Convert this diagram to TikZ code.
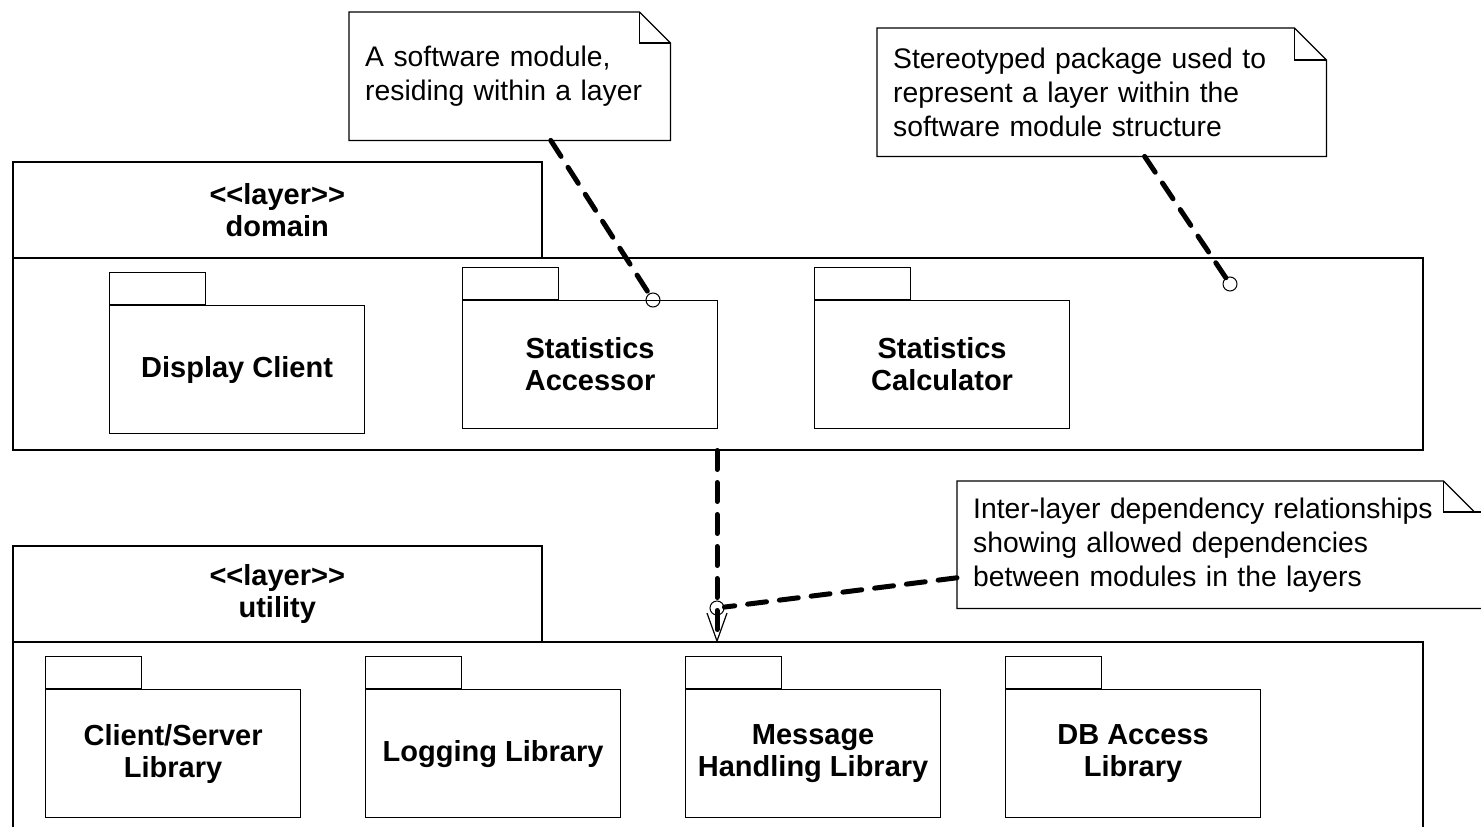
\documentclass[tikz,border=0pt]{standalone}
\usepackage{fontspec}
\setmainfont{Liberation Sans}
\newcommand{\diagpkgfont}{\fontsize{29}{32}\selectfont\bfseries}
\newcommand{\diagnotefont}{\fontsize{28.3}{34}\selectfont}
\begin{document}
\begin{tikzpicture}[x=1pt,y=-1pt,
  thinline/.style={line width=1.2pt},
  layerline/.style={line width=1.5pt},
  pkgbody/.style={draw, thinline, anchor=north west, minimum width=255pt, minimum height=128pt, inner sep=0pt, align=center, font=\diagpkgfont},
  pkgtab/.style={draw, thinline, anchor=south west, minimum width=96pt, minimum height=32pt, inner sep=0pt},
  layertab/.style={draw, layerline, anchor=north west, minimum width=529pt, minimum height=96pt, inner sep=0pt, align=center, font=\diagpkgfont},
  layerbody/.style={draw, layerline, anchor=north west, minimum width=1410pt, inner sep=0pt},
  notebox/.style={anchor=north west, minimum height=128pt, inner xsep=16pt, inner ysep=0pt, align=left, font=\diagnotefont},
  noteline/.style={thinline, line join=miter},
  dep/.style={line width=5pt, dash pattern=on 19pt off 13pt, line cap=round},
  anchorpt/.style={circle, draw, line width=1pt, minimum size=14pt, inner sep=0pt},
]
\useasboundingbox (0,0) rectangle (1481,827);

% layers
\node[layertab] (dt) at (12,161) {<\kern0pt<layer>\kern0pt>\\domain};
\node[layerbody, minimum height=192pt] (db) at (12,257) {};
\node[layertab] (ut) at (12,545) {<\kern0pt<layer>\kern0pt>\\utility};
\node[layerbody, minimum height=220pt] (ub) at (12,641) {};

% domain packages
\node[pkgbody] (dc) at (109,305) {Display Client};
\node[pkgtab] (dctab) at (dc.north west) {};
\node[pkgbody] (sa) at (462,300) {Statistics\\Accessor};
\node[pkgtab] (satab) at (sa.north west) {};
\node[pkgbody] (sc) at (814,300) {Statistics\\Calculator};
\node[pkgtab] (sctab) at (sc.north west) {};

% utility packages
\node[pkgbody] (csl) at (45,689) {Client/Server\\Library};
\node[pkgtab] (csltab) at (csl.north west) {};
\node[pkgbody] (ll) at (365,689) {Logging Library};
\node[pkgtab] (lltab) at (ll.north west) {};
\node[pkgbody] (mhl) at (685,689) {Message\\Handling Library};
\node[pkgtab] (mhltab) at (mhl.north west) {};
\node[pkgbody] (dba) at (1005,689) {DB Access\\Library};
\node[pkgtab] (dbatab) at (dba.north west) {};

% notes
\node[notebox, minimum width=321pt, text width=289pt] (n1) at (349,12) {A software module,\\residing within a layer};
\draw[noteline] (n1.north west) -- ([xshift=-31pt]n1.north east) -- ([yshift=-31pt]n1.north east) -- (n1.south east) -- (n1.south west) -- cycle;
\draw[noteline] ([xshift=-31pt]n1.north east) |- ([yshift=-31pt]n1.north east);

\node[notebox, minimum width=449pt, text width=417pt] (n2) at (877,28) {Stereotyped package used to\\represent a layer within the\\software module structure};
\draw[noteline] (n2.north west) -- ([xshift=-32pt]n2.north east) -- ([yshift=-32pt]n2.north east) -- (n2.south east) -- (n2.south west) -- cycle;
\draw[noteline] ([xshift=-32pt]n2.north east) |- ([yshift=-32pt]n2.north east);

\node[notebox, minimum width=526pt, text width=494pt, minimum height=127pt] (n3) at (957,481) {Inter-layer dependency relationships\\showing allowed dependencies\\between modules in the layers};
\draw[noteline] (n3.north west) -- ([xshift=-40pt]n3.north east) -- ([xshift=-9pt,yshift=-31pt]n3.north east) -- ([yshift=-31pt]n3.north east) -- (n3.south east) -- (n3.south west) -- cycle;
\draw[noteline] ([xshift=-40pt]n3.north east) |- ([yshift=-31pt]n3.north east);

% note anchors
\node[anchorpt] (c1) at (653,300) {};
\node[anchorpt] (c2) at (1230,284) {};
\node[anchorpt] (c3) at (717,608) {};

\draw[dep] (n1) -- (c1);
\draw[dep] (n2) -- (c2);
\draw[dep] (n3) -- (c3);

% dependency
\coordinate (deptop) at (db.south -| c3);
\coordinate (deptip) at (ub.north -| c3);
\draw[dep, shorten >=9pt] (deptop) -- (deptip);
\draw[thinline, line join=miter] ([xshift=-10pt,yshift=28pt]deptip) -- (deptip) -- ([xshift=10pt,yshift=28pt]deptip);
\end{tikzpicture}
\end{document}
